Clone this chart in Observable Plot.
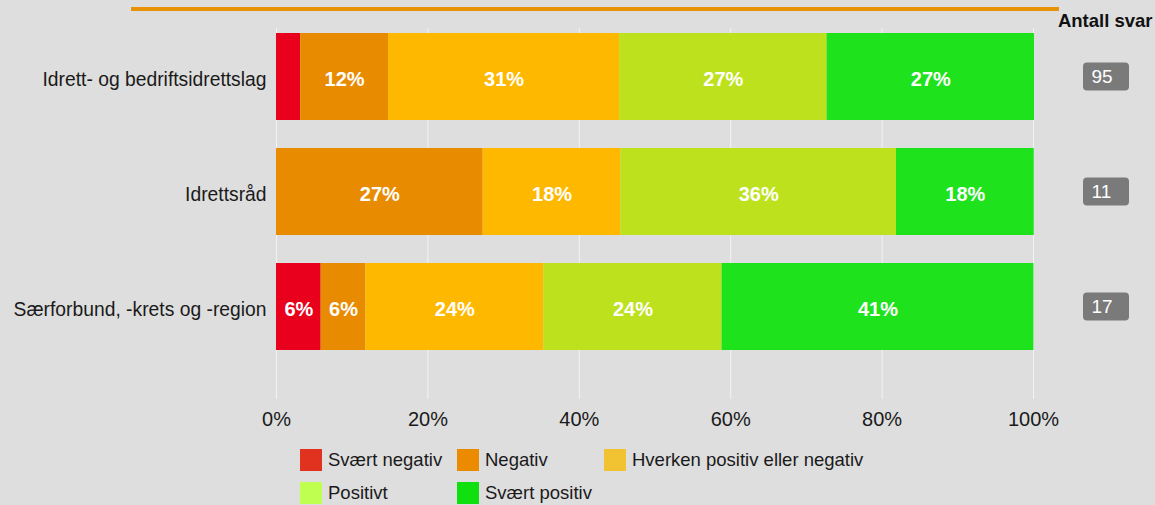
<!DOCTYPE html>
<html>
<head>
<meta charset="utf-8">
<script src="https://cdn.jsdelivr.net/npm/d3@7"></script>
<script src="https://cdn.jsdelivr.net/npm/@observablehq/plot@0.6"></script>
<style>
  html, body { margin: 0; padding: 0; background: #dedede; }
  body { width: 1155px; height: 505px; position: relative; overflow: hidden;
         font-family: "Liberation Sans", Arial, sans-serif; color: #1a1a1a; }
  #topline { position: absolute; left: 131px; top: 6.5px; width: 928px; height: 4px; background: #e8920a; }
  #legend { display: grid; grid-template-columns: 157px 147px auto; row-gap: 11px;
            margin-left: 300px; margin-top: 7px; font-size: 18.5px; }
  .item { display: flex; align-items: center; height: 22px; white-space: nowrap; }
  .sw { width: 22px; height: 22px; margin-right: 6px; flex: none; }
</style>
</head>
<body>
<div id="topline"></div>
<div id="chart"></div>
<div id="legend"></div>
<script>
const categories = ["Idrett- og bedriftsidrettslag", "Idrettsråd", "Særforbund, -krets og -region"];
const responses = ["Svært negativ", "Negativ", "Hverken positiv eller negativ", "Positivt", "Svært positiv"];
const sværtNegativ = [3.2, 0, 5.9];
const negativ = [11.6, 27.3, 5.9];
const hverken = [30.53, 18.2, 23.53];
const positivt = [27.4, 36.4, 23.53];
const sværtPositiv = [27.4, 18.2, 41.2];
const antallSvar = [95, 11, 17];
const xTicks = [0, 20, 40, 60, 80, 100];
const barColors = ["#e8001c", "#e98b00", "#ffb800", "#bde21d", "#1de21c"];
const legendColors = ["#e0321e", "#ec8b00", "#f1c232", "#bfff50", "#10e010"];

const series = [sværtNegativ, negativ, hverken, positivt, sværtPositiv];
const rows = [];
categories.forEach((c, i) => {
  responses.forEach((r, j) => rows.push({category: c, response: r, value: series[j][i]}));
});
const badges = categories.map((c, i) => ({category: c, n: antallSvar[i]}));

const chart = Plot.plot({
  width: 1155,
  height: 442,
  marginLeft: 276,
  marginRight: 122,
  marginTop: 28,
  marginBottom: 43,
  style: {background: "transparent", fontFamily: "'Liberation Sans', Arial, sans-serif", color: "#1a1a1a"},
  x: {domain: [0, 100], label: null},
  y: {domain: categories, label: null, paddingInner: 0.2435, paddingOuter: 0.23, align: 0.094},
  color: {domain: responses, range: barColors},
  marks: [
    Plot.gridX(xTicks, {stroke: "#f3f3f3", strokeOpacity: 1, strokeWidth: 1}),
    Plot.barX(rows, Plot.stackX({x: "value", y: "category", fill: "response"})),
    Plot.text(rows, Plot.stackX({
      x: "value", y: "category",
      text: d => d.value >= 5 ? Math.round(d.value) + "%" : "",
      fill: "white", fontWeight: "bold", fontSize: 20, dy: 3
    })),
    Plot.axisX({ticks: xTicks, tickFormat: d => d + "%", tickSize: 0, tickPadding: 12, fontSize: 20, label: null}),
    Plot.axisY({tickSize: 0, tickPadding: 10, fontSize: 19.3, dy: 3, label: null}),
    Plot.barX(badges, {
      x1: () => 100, x2: () => 100, y: "category",
      insetLeft: 50, insetRight: -96, insetTop: 29.5, insetBottom: 29.5,
      rx: 4, fill: "#7a7a7a"
    }),
    Plot.text(badges, {
      x: () => 100, y: "category", text: d => String(d.n),
      dx: 58, textAnchor: "start", fill: "white", fontSize: 19
    }),
    Plot.text(["Antall svar"], {
      frameAnchor: "top-right", text: d => d, dx: 119, dy: -7,
      lineAnchor: "middle", textAnchor: "end", fontWeight: "bold", fontSize: 18.5, fill: "#111"
    })
  ]
});
document.getElementById("chart").appendChild(chart);

const legend = document.getElementById("legend");
responses.forEach((r, i) => {
  const item = document.createElement("div");
  item.className = "item";
  const sw = document.createElement("span");
  sw.className = "sw";
  sw.style.background = legendColors[i];
  const lab = document.createElement("span");
  lab.textContent = r;
  item.appendChild(sw);
  item.appendChild(lab);
  legend.appendChild(item);
});
</script>
</body>
</html>
